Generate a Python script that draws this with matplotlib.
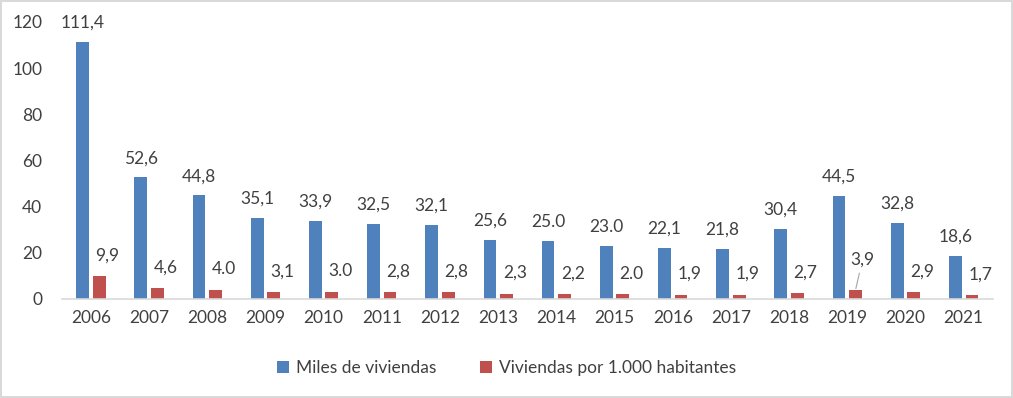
#!/usr/bin/env python3

import numpy as np
import matplotlib
matplotlib.use("Agg")
import matplotlib.pyplot as plt

years = ["2006", "2007", "2008", "2009", "2010", "2011", "2012", "2013",
         "2014", "2015", "2016", "2017", "2018", "2019", "2020", "2021"]
miles = [111.4, 52.6, 44.8, 35.1, 33.9, 32.5, 32.1, 25.6,
         25.0, 23.0, 22.1, 21.8, 30.4, 44.5, 32.8, 18.6]
por_mil = [9.9, 4.6, 4.0, 3.1, 3.0, 2.8, 2.8, 2.3,
           2.2, 2.0, 1.9, 1.9, 2.7, 3.9, 2.9, 1.7]
# label texts as printed on the chart (mixed decimal separators)
miles_txt = ["111,4", "52,6", "44,8", "35,1", "33,9", "32,5", "32,1", "25,6",
             "25.0", "23.0", "22,1", "21,8", "30,4", "44,5", "32,8", "18,6"]
por_mil_txt = ["9,9", "4,6", "4.0", "3,1", "3.0", "2,8", "2,8", "2,3",
               "2,2", "2.0", "1,9", "1,9", "2,7", "3,9", "2,9", "1,7"]

BLUE = "#4F81BD"
RED = "#C0504D"
TXT = "#404040"
FS = 12.5

plt.rcParams["font.family"] = ["Lato", "DejaVu Sans"]

fig = plt.figure(figsize=(10.13, 3.98), dpi=100)
fig.patch.set_edgecolor("#D9D9D9")
fig.patch.set_linewidth(1.5)
ax = fig.add_axes([0.061, 0.249, 0.919, 0.696])

x = np.arange(len(years))
w = 0.22
b1 = ax.bar(x - 0.142, miles, w, color=BLUE, label="Miles de viviendas")
b2 = ax.bar(x + 0.142, por_mil, w, color=RED, label="Viviendas por 1.000 habitantes")

for xi, v, t in zip(x, miles, miles_txt):
    ax.annotate(t, (xi - 0.142, v), xytext=(0, 8), textcoords="offset points",
                ha="center", va="bottom", fontsize=FS, color=TXT)

for i, (xi, v, t) in enumerate(zip(x, por_mil, por_mil_txt)):
    if years[i] == "2019":
        ax.annotate(t, (xi + 0.142, v), xytext=(5, 16), textcoords="offset points",
                    ha="center", va="bottom", fontsize=FS, color=TXT,
                    arrowprops=dict(arrowstyle="-", color="#A6A6A6", lw=0.8,
                                    shrinkA=2, shrinkB=1))
    else:
        ax.annotate(t, (xi + 0.142, v), xytext=(6, 9), textcoords="offset points",
                    ha="center", va="bottom", fontsize=FS, color=TXT)

ax.set_xlim(-0.5, len(years) - 0.5)
ax.set_ylim(0, 120)
ax.set_yticks(range(0, 121, 20))
ax.set_xticks(x)
ax.set_xticklabels(years)
ax.tick_params(axis="both", length=0, labelsize=FS, colors=TXT)
ax.tick_params(axis="x", pad=8)
ax.tick_params(axis="y", pad=14)
for s in ["top", "right", "left"]:
    ax.spines[s].set_visible(False)
ax.spines["bottom"].set_color("#D9D9D9")
ax.spines["bottom"].set_linewidth(1.2)

fig.legend(handles=[b1, b2], loc="center", bbox_to_anchor=(0.5, 0.075), ncol=2,
           frameon=False, fontsize=FS, handlelength=0.7, handleheight=0.7,
           handletextpad=0.4, columnspacing=2.5, labelcolor=TXT)

fig.savefig("out.png", dpi=100)
